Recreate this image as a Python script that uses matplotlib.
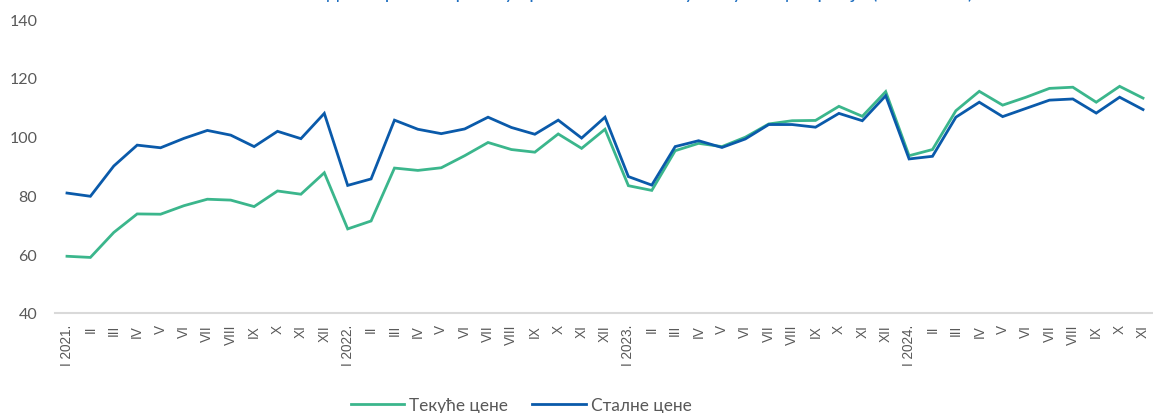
import matplotlib
matplotlib.use("Agg")
import matplotlib.pyplot as plt

months = ["I", "II", "III", "IV", "V", "VI", "VII", "VIII", "IX", "X", "XI", "XII"]
years = ["2021", "2022", "2023", "2024"]
tick_labels = []
for y in years:
    for m in months:
        tick_labels.append(f"I {y}." if m == "I" else m)
tick_labels = tick_labels[:47]

current_prices = [59.3, 58.9, 67.4, 73.7, 73.6, 76.5, 78.7, 78.4, 76.2, 81.5, 80.4, 87.7,
                  68.6, 71.3, 89.3, 88.5, 89.4, 93.5, 98.0, 95.6, 94.7, 100.9, 96.0, 102.5,
                  83.3, 81.7, 95.2, 97.7, 96.6, 99.8, 104.3, 105.4, 105.5, 110.3, 106.9, 115.3,
                  93.5, 95.6, 108.8, 115.4, 110.7, 113.4, 116.4, 116.8, 111.7, 117.1, 113.1]
constant_prices = [80.8, 79.7, 90.0, 97.1, 96.2, 99.4, 102.1, 100.5, 96.6, 101.8, 99.3, 107.9,
                   83.4, 85.6, 105.6, 102.5, 101.0, 102.6, 106.6, 103.1, 100.8, 105.6, 99.5, 106.6,
                   86.4, 83.5, 96.6, 98.6, 96.3, 99.2, 104.1, 104.1, 103.2, 107.9, 105.4, 113.9,
                   92.4, 93.3, 106.6, 111.7, 106.8, 109.6, 112.4, 112.8, 108.0, 113.4, 109.2]
series_names = ["Текуће цене", "Сталне цене"]
title = "Индекс промета робе у трговини на мало у Републици Србији (2021=100)"

green = "#3BB68C"
blue = "#0A5AAA"
gray = "#595959"

fig = plt.figure(figsize=(11.53, 4.14), dpi=100)
ax = fig.add_axes([55.3 / 1153, 100 / 414, 1099.4 / 1153, 294 / 414])

x = list(range(len(tick_labels)))
l1, = ax.plot(x, current_prices, color=green, lw=2.0, label=series_names[0], solid_joinstyle="miter")
l2, = ax.plot(x, constant_prices, color=blue, lw=2.0, label=series_names[1], solid_joinstyle="miter")

ax.set_xlim(-0.5, len(x) - 0.5)
ax.set_ylim(40, 140)
ax.set_yticks([40, 60, 80, 100, 120, 140])
ax.set_xticks(x)
ax.set_xticklabels(tick_labels, rotation=90, fontsize=9.8, color=gray,
                   family=["Liberation Sans", "DejaVu Sans"])
for lab in ax.get_yticklabels():
    lab.set_family(["Lato", "DejaVu Sans"])
    lab.set_fontsize(11.5)
    lab.set_color(gray)
ax.tick_params(axis="y", length=0, pad=13)
ax.tick_params(axis="x", length=0, pad=8)

for s in ["top", "right", "left"]:
    ax.spines[s].set_visible(False)
ax.spines["bottom"].set_color("#D9D9D9")
ax.spines["bottom"].set_linewidth(1.5)

fig.legend(handles=[l1, l2], loc="center", bbox_to_anchor=(521 / 1153, 1 - 406 / 414),
           ncol=2, frameon=False, handlelength=3.1, columnspacing=1.4,
           handletextpad=0.3, borderpad=0,
           prop={"family": ["Lato", "DejaVu Sans"], "size": 12.4})
for t in fig.legends[0].get_texts():
    t.set_color(gray)

fig.text(637 / 1153, 1 + 1.0 / 414, title, ha="center", va="baseline", color="#1F6FC0",
         fontsize=14, family=["Lato", "DejaVu Sans"])

fig.savefig("out.png", dpi=100)
